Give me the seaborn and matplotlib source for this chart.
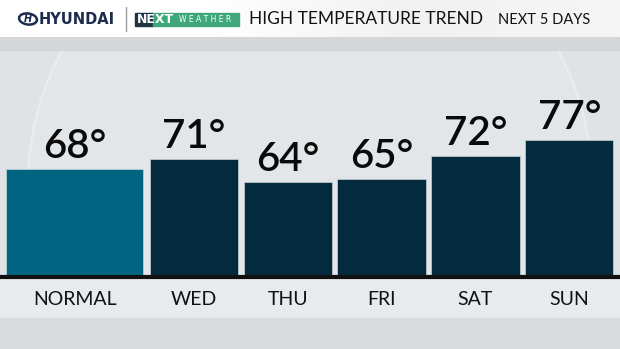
import numpy as np
import pandas as pd
import matplotlib
matplotlib.use("Agg")
import matplotlib.pyplot as plt
import seaborn as sns
from matplotlib.patches import Circle, Rectangle, Ellipse
from matplotlib.colors import LinearSegmentedColormap

# ---- data ----
categories = ["NORMAL", "WED", "THU", "FRI", "SAT", "SUN"]
temps = [68, 71, 64, 65, 72, 77]
kinds = ["normal", "forecast", "forecast", "forecast", "forecast", "forecast"]
title = "HIGH TEMPERATURE TREND"
subtitle = "NEXT 5 DAYS"
brand = "HYUNDAI"

sns.set_theme(style="white")
plt.rcParams['font.family'] = ['Lato', 'DejaVu Sans']

W, H = 620, 349
fig = plt.figure(figsize=(6.2, 3.49), dpi=100)

# ---- background layer ----
bg = fig.add_axes([0, 0, 1, 1], zorder=0)
bg.set_xlim(0, W); bg.set_ylim(H, 0); bg.axis('off')
bg.add_patch(Rectangle((0, 0), W, H, color='#e0e3e5', zorder=0))
bg.add_patch(Circle((310, 185), 282, facecolor='#e3e6e8', edgecolor='#e9ecee', lw=2, zorder=1))
bg.add_patch(Rectangle((0, 37), W, 13, color='#d4d7d9', zorder=2))
bg.add_patch(Rectangle((0, 278), W, 40, color='#e8ebed', zorder=2))
bg.add_patch(Rectangle((0, 318), W, 31, color='#d7dbdd', zorder=2))
# header gradient
grad = np.linspace(0, 1, 256).reshape(1, -1)
cm = LinearSegmentedColormap.from_list('hdr', ['#ffffff', '#ffffff', '#f1f1f1', '#f6f6f6'])
bg.imshow(grad, cmap=cm, extent=(0, W, 37, 0), aspect='auto', zorder=3)
bg.set_xlim(0, W); bg.set_ylim(H, 0)

# logo
bg.add_patch(Ellipse((28, 19), 18, 11, angle=8, facecolor='none', edgecolor='#1c2b4e', lw=1.8, zorder=4))
bg.text(28, 19.5, "H", ha='center', va='center', fontsize=7, fontweight='bold', style='italic',
        color='#1c2b4e', family=['DejaVu Sans'], zorder=5)
bg.text(39, 19.5, brand, ha='left', va='center', fontsize=10.5, fontweight='bold',
        color='#1c2b4e', family=['DejaVu Sans'], zorder=5)
bg.plot([126, 126], [7, 31], color='#9a9a9a', lw=1, zorder=4)
# NEXT WEATHER badge
bg.add_patch(Rectangle((135, 13), 18, 13, color='#1f3447', zorder=4))
bg.add_patch(Rectangle((153, 13), 86, 13, color='#3ea77c', zorder=4))
bg.text(137, 19.8, "NEXT", ha='left', va='center', fontsize=9, fontweight='bold', color='white',
        family=['DejaVu Sans'], zorder=5)
bg.text(205, 19.8, "W E A T H E R", ha='center', va='center', fontsize=5.5, color='white',
        family=['DejaVu Sans'], zorder=5)
bg.text(249, 19.5, title, ha='left', va='center', fontsize=12.5, color='#111111', zorder=5)
bg.text(498, 19.5, subtitle, ha='left', va='center', fontsize=10.5, color='#111111', zorder=5)

# ---- chart ----
ax = fig.add_axes([0, 72 / H, 1, 240 / H], zorder=2)
ax.patch.set_alpha(0)
df = pd.DataFrame({"day": categories, "temp": temps, "kind": kinds})
sns.barplot(data=df, x="day", y="temp", hue="kind", dodge=False, width=0.94, saturation=1,
            palette={"normal": "#006482", "forecast": "#032b3d"},
            edgecolor='#c9d3d8', linewidth=0.5, legend=False, ax=ax)

# widen the NORMAL bar to the left
bars = sorted(ax.patches, key=lambda p: p.get_x())
normal_bar = bars[0]
right = normal_bar.get_x() + normal_bar.get_width()
normal_bar.set_x(-1.0)
normal_bar.set_width(right + 1.0 - 0.01)

ax.set_xlim(-1.066, 5.54)
ax.set_ylim(34.6, 108.9)

centers = [p.get_x() + p.get_width() / 2 for p in bars]
ax.set_xticks(centers)
ax.set_xticklabels(categories)
for c in ax.containers:
    ax.bar_label(c, labels=[f"{int(v)}°" for v in c.datavalues], padding=3,
                 fontsize=29, fontweight='semibold', color='#0a0a0a')

sns.despine(ax=ax, left=True, top=True, right=True)
ax.spines['bottom'].set_color('#111111')
ax.spines['bottom'].set_linewidth(3)
ax.set_yticks([])
ax.tick_params(axis='x', length=0, pad=10, labelsize=14, colors='#111111')
ax.set_xlabel(''); ax.set_ylabel('')

fig.savefig("out.png", dpi=100)
